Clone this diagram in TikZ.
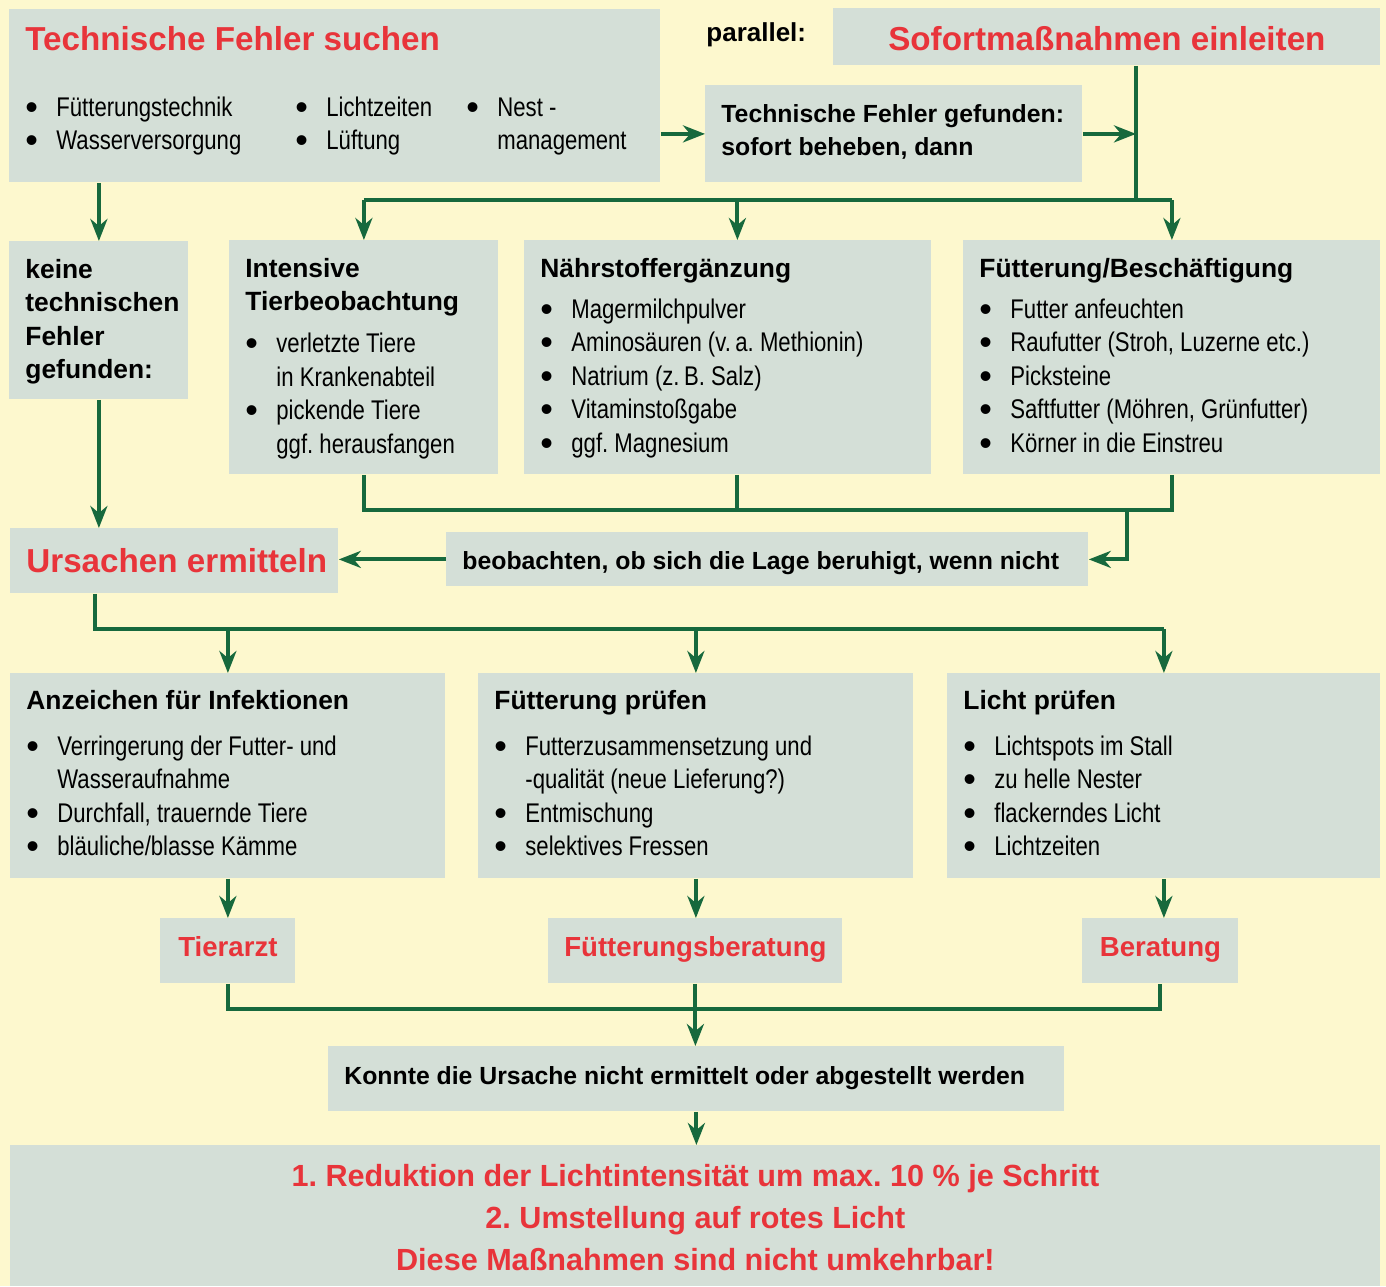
\documentclass[tikz,border=0pt]{standalone}
\usepackage{fontspec}
\setmainfont{Liberation Sans}
\newfontfamily\narrowfont[FakeStretch=0.82]{Liberation Sans}
\usepackage{xcolor}
\usetikzlibrary{arrows.meta}
\usetikzlibrary{positioning}
\definecolor{bgyellow}{HTML}{FDF8CE}
\definecolor{boxgray}{HTML}{D4DFD7}
\definecolor{linegreen}{HTML}{17693D}
\definecolor{redtxt}{HTML}{E8343A}
\frenchspacing
\newcommand\redtitle{\color{redtxt}\bfseries\fontsize{16.6pt}{16.75pt}\selectfont}
\newcommand\redmid{\color{redtxt}\bfseries\fontsize{13.8pt}{16.75pt}\selectfont}
\newcommand\boxhead{\bfseries\fontsize{13.2pt}{16.75pt}\selectfont}
\newcommand\boldtxt{\bfseries\fontsize{12.4pt}{16.75pt}\selectfont}
\newcommand\bodytxt{\normalfont\narrowfont\color{black}\fontsize{13.5pt}{16.75pt}\selectfont}
\newcommand\bul{\raisebox{-1.5pt}{\normalfont\fontsize{18pt}{18pt}\selectfont\textbullet}}
\newcommand\itm{\par\hangindent=15.5pt\hangafter=1\makebox[15.5pt][l]{\bul}}
\newcommand\cbul[2]{\makebox[#1][l]{\makebox[15.5pt][l]{\bul}#2}}
% box content: width, height, first baseline, text
\newcommand\inbox[4]{\parbox[c][#2][t]{#1}{\leftskip=8pt\rightskip=0pt plus 1fil
  \parindent=0pt\parskip=0pt\lineskiplimit=-100pt\rule{0pt}{#3}#4}}
\tikzset{box/.style={fill=boxgray, inner sep=0pt, anchor=north west},
         conn/.style={draw=linegreen, line width=2pt},
         arr/.style={conn, -{Stealth[length=11pt,width=8.5pt,inset=3.5pt]}},
         }
\begin{document}
\begin{tikzpicture}[x=0.5pt,y=-0.5pt]
\useasboundingbox (0,0) rectangle (1386,1286);
\fill[bgyellow] (0,0) rectangle (1386,1286);
% top row
\node[box] (sucht) at (9,9) {\inbox{325.5pt}{86.5pt}{20.5pt}{\redtitle Technische Fehler suchen
  \par\vspace{16.25pt}\bodytxt
  \cbul{135pt}{Fütterungstechnik}\cbul{85.5pt}{Lichtzeiten}\cbul{15.5pt}{}Nest -\par
  \cbul{135pt}{Wasserversorgung}\cbul{85.5pt}{Lüftung}\hspace*{15.5pt}management}};
\node[anchor=west, inner sep=0pt, font=\bfseries\fontsize{13pt}{16pt}\selectfont] (par) at (706,35) {parallel:};
\node[box] (sof) at (833,8) {\inbox{273.5pt}{28.5pt}{21pt}{\centering\redtitle Sofortmaßnahmen einleiten}};
\node[box] (tf) at (705,85) {\inbox{188.5pt}{48.5pt}{18.5pt}{\boldtxt Technische Fehler gefunden:\\sofort beheben, dann}};
% second row
\node[box] (keine) at (9,241) {\inbox{89.5pt}{79pt}{18.5pt}{\boxhead keine\\technischen\\Fehler\\gefunden:}};
\node[box] (intens) at (229,240) {\inbox{134.5pt}{117pt}{18.5pt}{\boxhead Intensive\\Tierbeobachtung
  \par\vspace{4.25pt}\bodytxt
  \itm verletzte Tiere\\in Krankenabteil
  \itm pickende Tiere\\ggf. herausfangen}};
\node[box] (naehr) at (524,240) {\inbox{203.5pt}{117pt}{18.5pt}{\boxhead Nährstoffergänzung
  \par\vspace{3.75pt}\bodytxt
  \itm Magermilchpulver
  \itm Aminosäuren (v.\,a. Methionin)
  \itm Natrium (z.\,B. Salz)
  \itm Vitaminstoßgabe
  \itm ggf. Magnesium}};
\node[box] (fuet) at (963,240) {\inbox{208.5pt}{117pt}{18.5pt}{\boxhead Fütterung/Beschäftigung
  \par\vspace{3.75pt}\bodytxt
  \itm Futter anfeuchten
  \itm Raufutter (Stroh, Luzerne etc.)
  \itm Picksteine
  \itm Saftfutter (Möhren, Grünfutter)
  \itm Körner in die Einstreu}};
% middle
\node[box] (urs) at (10,528) {\inbox{164pt}{32.5pt}{22pt}{\redtitle\mbox{Ursachen ermitteln}}};
\node[box] (beob) at (446,532) {\inbox{321pt}{27pt}{18.5pt}{\boldtxt\mbox{beobachten, ob sich die Lage beruhigt, wenn nicht}}};
% third row
\node[box] (infekt) at (10,673) {\inbox{217.5pt}{102.5pt}{18pt}{\boxhead Anzeichen für Infektionen
  \par\vspace{6.25pt}\bodytxt
  \itm Verringerung der Futter- und\\Wasseraufnahme
  \itm Durchfall, trauernde Tiere
  \itm bläuliche/blasse Kämme}};
\node[box] (fpr) at (478,673) {\inbox{217.5pt}{102.5pt}{18pt}{\boxhead Fütterung prüfen
  \par\vspace{6.25pt}\bodytxt
  \itm Futterzusammensetzung und\\-qualität (neue Lieferung?)
  \itm Entmischung
  \itm selektives Fressen}};
\node[box] (licht) at (947,673) {\inbox{216.5pt}{102.5pt}{18pt}{\boxhead Licht prüfen
  \par\vspace{6.25pt}\bodytxt
  \itm Lichtspots im Stall
  \itm zu helle Nester
  \itm flackerndes Licht
  \itm Lichtzeiten}};
\node[box] (tierarzt) at (160,918) {\inbox{67.5pt}{32.5pt}{19pt}{\centering\redmid Tierarzt}};
\node[box] (fberat) at (548,918) {\inbox{147pt}{32.5pt}{19pt}{\centering\redmid Fütterungsberatung}};
\node[box] (berat) at (1082,918) {\inbox{78pt}{32.5pt}{19pt}{\centering\redmid Beratung}};
\node[box] (konnte) at (328,1046) {\inbox{368pt}{32.5pt}{19pt}{\boldtxt\mbox{Konnte die Ursache nicht ermittelt oder abgestellt werden}}};
\node[box] (final) at (10,1145) {\inbox{685pt}{70.5pt}{20.5pt}{\centering
  \color{redtxt}\bfseries\fontsize{15.3pt}{21pt}\selectfont
  1. Reduktion der Lichtintensität um max. 10 \% je Schritt\\
  2. Umstellung auf rotes Licht\\
  Diese Maßnahmen sind nicht umkehrbar!}};
% junctions
\coordinate (vs) at (1136,200);
\coordinate (vb) at (1127,510);
\coordinate (vu) at (95,629);
\coordinate (vk) at (696,1009);
\coordinate (nx) at ([xshift=4.75pt]naehr.north);
% connectors
\draw[arr] (tf.west -| sucht.east) -- (tf.west);
\draw[arr] (tf.east) -- (tf.east -| vs);
\draw[conn] (sof.south -| vs) -- (vs);
\draw[conn] (vs -| intens.north) -- (vs -| fuet.north);
\draw[arr] (vs -| intens.north) -- (intens.north);
\draw[arr] (nx |- vs) -- (nx);
\draw[arr] (vs -| fuet.north) -- (fuet.north);
\draw[arr] (sucht.south -| keine.north) -- (keine.north);
\draw[arr] (keine.south) -- (keine.south |- urs.north);
\draw[conn] (intens.south) -- (intens.south |- vb) -- (fuet.south |- vb) -- (fuet.south);
\draw[conn] (nx |- naehr.south) -- (nx |- vb);
\draw[arr] (vb) |- (beob.east);
\draw[arr] (beob.west) -- (beob.west -| urs.east);
\draw[conn] (vu |- urs.south) -- (vu) -- (vu -| licht.north);
\draw[arr] (vu -| infekt.north) -- (infekt.north);
\draw[arr] (vu -| fpr.north) -- (fpr.north);
\draw[arr] (vu -| licht.north) -- (licht.north);
\draw[arr] (infekt.south) -- (infekt.south |- tierarzt.north);
\draw[arr] (fpr.south) -- (fpr.south |- fberat.north);
\draw[arr] (licht.south) -- (licht.south |- berat.north);
\draw[conn] (tierarzt.south) |- (vk) -| (berat.south);
\draw[arr] (fberat.south) -- (fberat.south |- konnte.north);
\draw[arr] (konnte.south) -- (konnte.south |- final.north);
\end{tikzpicture}
\end{document}
